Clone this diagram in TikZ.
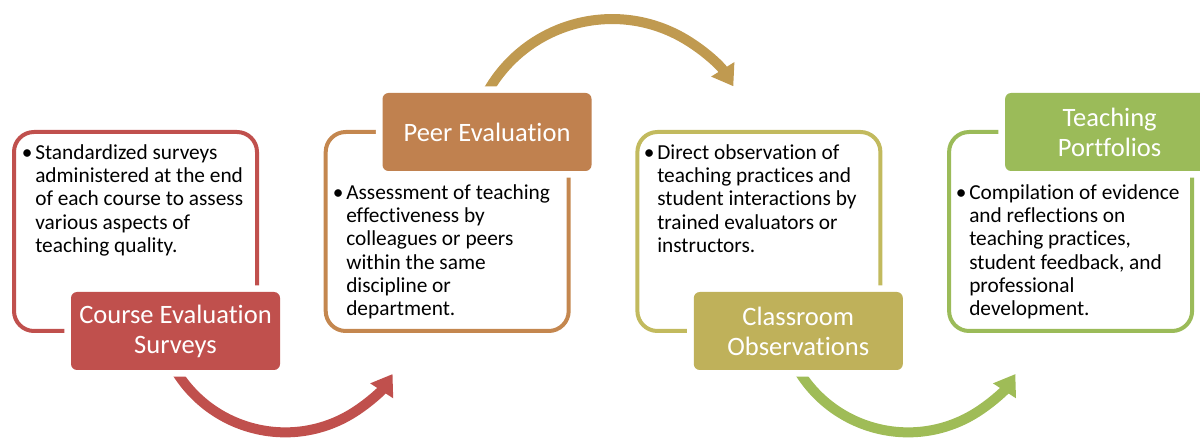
\documentclass[tikz,border=0pt]{standalone}
\usepackage{fontspec}
\setmainfont{Carlito}[RawFeature={-liga;-dlig;-clig}]
\usetikzlibrary{arrows.meta}

\definecolor{cRed}{HTML}{C0504D}
\definecolor{cOrange}{HTML}{C0814F}
\definecolor{cOrangeLine}{HTML}{C4874F}
\definecolor{cTan}{HTML}{C09A50}
\definecolor{cOlive}{HTML}{BFB15A}
\definecolor{cOliveLine}{HTML}{C2BA5E}
\definecolor{cGreen}{HTML}{9BBB59}
\definecolor{cGreenArc}{HTML}{9FBC57}

\newcommand\mybodyfont{\fontsize{16pt}{17.4pt}\selectfont}
\newcommand\myheadfont{\fontsize{19.9pt}{22.5pt}\selectfont}

\pgfdeclarelayer{arcs}
\pgfsetlayers{arcs,main}

\tikzset{
  frame/.style={draw=#1, line width=3pt, rounded corners=15pt,
    minimum width=182.25pt, minimum height=149.25pt, inner sep=0pt},
  headbox/.style={fill=#1, rounded corners=4.5pt,
    preaction={draw=white, line width=10pt},
    minimum width=156.75pt, minimum height=58.5pt, inner sep=0pt,
    text=white, align=center, font=\myheadfont},
  bodytext/.style={anchor=north west, align=left, inner sep=0pt,
    font=\mybodyfont, text=black},
  flow/.style={draw=#1, line width=7.5pt,
    -{Triangle[length=15pt,width=19.5pt]}},
}

\newcommand\bul{\llap{\textbullet\kern2pt}}

\begin{document}
\begin{tikzpicture}[x=0.75pt, y=-0.75pt]
  \useasboundingbox (0,0) rectangle (1200,438);
  \clip (0,0) rectangle (1200,438);

  % outlined frames
  \node[frame=cRed]        (f1) at (135.5,231.5) {};
  \node[frame=cOrangeLine] (f2) at (447.2,231.5) {};
  \node[frame=cOliveLine]  (f3) at (758.9,231.5) {};
  \node[frame=cGreen]      (f4) at (1070.6,231.5) {};

  % coloured heading boxes
  \node[headbox=cRed]    (t1) at (175.5,331) {Course Evaluation\\Surveys};
  \node[headbox=cOrange] (t2) at (487.0,132) {Peer Evaluation};
  \node[headbox=cOlive]  (t3) at (798.3,331) {Classroom\\Observations};
  \node[headbox=cGreen]  (t4) at (1109.6,132) {Teaching\\Portfolios};

  % bullet texts
  \node[bodytext] (b1) at (35,144.5) {\bul Standardized surveys\\administered at the end\\of each course to assess\\various aspects of\\teaching quality.};
  \node[bodytext] (b2) at (346,184.5) {\bul Assessment of teaching\\effectiveness by\\colleagues or peers\\within the same\\discipline or\\department.};
  \node[bodytext] (b3) at (657,144.5) {\bul Direct observation of\\teaching practices and\\student interactions by\\trained evaluators or\\instructors.};
  \node[bodytext] (b4) at (969,184.5) {\bul Compilation of evidence\\and reflections on\\teaching practices,\\student feedback, and\\professional\\development.};

  % curved arrows between the stages
  \begin{pgfonlayer}{arcs}
    \draw[flow=cRed]      (t1.south) arc[start angle=149, end angle=33, radius=128];
    \draw[flow=cTan]      (t2.north) arc[start angle=209, end angle=328, radius=143];
    \draw[flow=cGreenArc] (t3.south) arc[start angle=149, end angle=33, radius=128];
  \end{pgfonlayer}
\end{tikzpicture}
\end{document}
